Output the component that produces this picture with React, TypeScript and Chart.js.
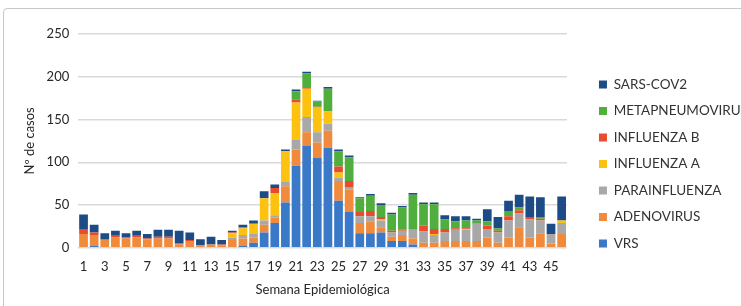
import React, { useEffect, useRef } from "react";
import { Chart, registerables } from "chart.js";

Chart.register(...registerables);

const weeks = Array.from({ length: 46 }, (_, i) => String(i + 1));

const VRS = [1, 2, 0, 0, 0, 0, 0, 0, 0, 0, 1, 1, 1, 1, 1, 2, 6, 18, 29, 53, 96, 119, 105, 117, 55, 42, 17, 17, 18, 8, 8, 4, 0, 0, 0, 0, 0, 0, 0, 0, 0, 0, 1, 0, 0, 0];
const ADENOVIRUS = [15, 13, 9, 12, 11, 12, 10, 11, 11, 4, 6, 2, 3, 2, 8, 9, 6, 9, 6, 19, 19, 16, 18, 20, 23, 26, 12, 14, 6, 5, 7, 7, 6, 6, 8, 8, 8, 8, 12, 6, 12, 24, 11, 17, 5, 16];
const PARAINFLUENZA = [0, 0, 0, 0, 0, 0, 0, 0, 0, 0, 0, 0, 0, 0, 3, 4, 4, 5, 3, 5, 11, 18, 12, 8, 4, 3, 8, 6, 8, 5, 5, 10, 13, 9, 10, 13, 13, 20, 10, 12, 20, 16, 21, 15, 11, 13];
const INFLUENZA_A = [0, 0, 0, 0, 0, 0, 0, 0, 0, 0, 0, 0, 0, 0, 5, 8, 12, 26, 26, 36, 44, 33, 29, 15, 6, 0, 0, 0, 1, 0, 0, 0, 0, 1, 0, 0, 1, 0, 0, 0, 0, 0, 0, 0, 0, 3];
const INFLUENZA_B = [5, 3, 1, 2, 1, 2, 1, 2, 2, 1, 2, 0, 0, 1, 1, 1, 0, 0, 6, 0, 3, 1, 1, 0, 7, 7, 5, 6, 3, 2, 1, 0, 7, 6, 4, 2, 1, 0, 4, 2, 5, 4, 3, 2, 0, 0];
const METAPNEUMOVIRUS = [0, 0, 0, 0, 0, 0, 0, 0, 0, 0, 0, 0, 0, 0, 0, 0, 0, 0, 0, 0, 10, 17, 6, 26, 18, 28, 16, 18, 14, 19, 26, 41, 25, 29, 11, 8, 9, 4, 5, 3, 6, 3, 0, 2, 0, 0];
const SARS_COV2 = [18, 9, 7, 6, 5, 6, 5, 8, 8, 15, 9, 7, 9, 5, 2, 3, 4, 8, 4, 2, 2, 2, 1, 2, 2, 2, 1, 2, 2, 2, 2, 2, 2, 2, 5, 6, 5, 2, 14, 13, 12, 15, 24, 23, 12, 28];

const yTicks = [0, 50, 100, 150, 200, 250];

const FONT = "Lato, 'Open Sans', sans-serif";

const shiftLegend = {
  id: "shiftLegend",
  afterLayout(chart: any) {
    const lg = chart.legend;
    if (lg) {
      lg.left += 19;
      lg.right += 19;
      lg.top -= 2;
      lg.bottom -= 2;
    }
  },
};

export default function App() {
  const ref = useRef<HTMLCanvasElement | null>(null);
  useEffect(() => {
    if (!ref.current) return;
    const ds = [
      { label: "VRS", data: VRS, backgroundColor: "#3a78c8" },
      { label: "ADENOVIRUS", data: ADENOVIRUS, backgroundColor: "#f08a3c" },
      { label: "PARAINFLUENZA", data: PARAINFLUENZA, backgroundColor: "#a8a8a8" },
      { label: "INFLUENZA A", data: INFLUENZA_A, backgroundColor: "#fdc20f" },
      { label: "INFLUENZA B", data: INFLUENZA_B, backgroundColor: "#e84b2e" },
      { label: "METAPNEUMOVIRUS", data: METAPNEUMOVIRUS, backgroundColor: "#4fae3c" },
      { label: "SARS-COV2", data: SARS_COV2, backgroundColor: "#1c4b85" },
    ].map((d) => ({ ...d, borderWidth: 0, barPercentage: 0.82, categoryPercentage: 1 }));
    const chart = new Chart(ref.current, {
      type: "bar",
      data: { labels: weeks, datasets: ds },
      plugins: [shiftLegend],
      options: {
        animation: false,
        responsive: false,
        maintainAspectRatio: false,
        layout: { padding: { left: 22, right: 2, top: 34, bottom: 8 } },
        plugins: {
          tooltip: { enabled: false },
          legend: {
            position: "right",
            reverse: true,
            align: "center",
            labels: {
              boxWidth: 8,
              boxHeight: 8,
              padding: 13,
              color: "#333333",
              font: { family: FONT, size: 13.5 },
            },
          },
        },
        scales: {
          x: {
            stacked: true,
            grid: { display: false },
            border: { display: false },
            ticks: {
              autoSkip: false,
              maxRotation: 0,
              color: "#262626",
              font: { family: FONT, size: 13 },
              callback: (v: any, i: number) => (i % 2 === 0 ? weeks[i] : ""),
            },
            title: {
              display: true,
              text: "Semana Epidemiológica",
              color: "#262626",
              font: { family: FONT, size: 13 },
              padding: { top: 5, bottom: 0 },
            },
          },
          y: {
            stacked: true,
            min: 0,
            max: 250,
            afterBuildTicks: (axis: any) => {
              axis.ticks = yTicks.map((v) => ({ value: v }));
            },
            grid: { color: "#d9d9d9", lineWidth: 1.5, drawTicks: false },
            border: { display: false },
            ticks: {
              padding: 9,
              color: "#262626",
              font: { family: FONT, size: 13 },
            },
            title: {
              display: true,
              text: "Nº de casos",
              color: "#262626",
              font: { family: FONT, size: 13 },
              padding: { top: 0, bottom: 0 },
            },
          },
        },
      },
    });
    return () => chart.destroy();
  }, []);
  return (
    <div style={{ position: "fixed", left: 0, top: 0, width: 741, height: 306, background: "#fff" }}>
      <div
        style={{
          position: "absolute",
          left: 3,
          top: 8,
          width: 800,
          height: 400,
          border: "1px solid #c8c8c8",
          borderRadius: 4,
        }}
      />
      <canvas ref={ref} width={741} height={306} style={{ position: "absolute", left: 0, top: 0 }} />
    </div>
  );
}
